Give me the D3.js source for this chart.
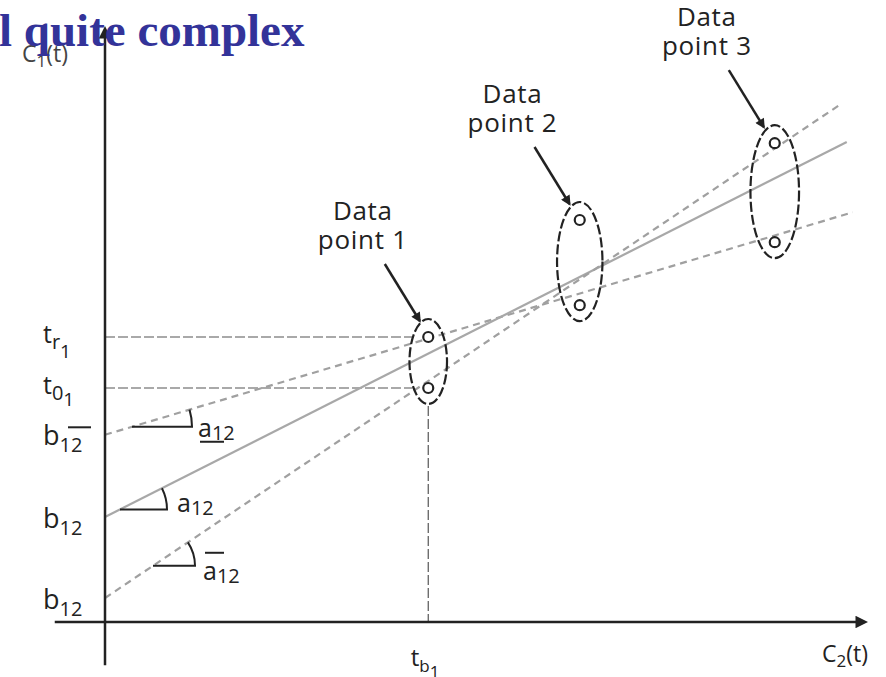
<!DOCTYPE html>
<html>
<head>
<meta charset="utf-8">
<script src="https://cdn.jsdelivr.net/npm/d3@7"></script>
<style>
  body { margin: 0; background: #fff; }
  svg { display: block; font-family: "Open Sans", "DejaVu Sans", sans-serif; }
</style>
</head>
<body>
<svg id="chart" width="886" height="677"></svg>
<script>
// ---------- data (chart units, 0..100 on both axes) ----------
// three fitted lines: y = intercept + slope * x
const fitNames      = ["under", "mean", "over"];
const fitIntercepts = [31.2, 17.5, 4.0];
const fitSlopes     = [0.372, 0.632, 0.839];
const fitXEnd       = [99.7, 98.9, 98.0];

// data points: each is a pair of measurements (high / low) at one C2 value
const pointNames = ["Data point 1", "Data point 2", "Data point 3"];
const pointX     = [43.1, 63.3, 89.3];
const pointYHigh = [47.5, 67.0, 79.8];
const pointYLow  = [39.0, 52.8, 63.3];

// axis tick labels (base letter, subscript, second-level subscript, bar)
const yTickBase   = ["t", "t", "b", "b", "b"];
const yTickSub    = ["r", "0", "12", "12", "12"];
const yTickSubSub = ["1", "1", "", "", ""];
const yTickBar    = [false, false, true, false, false];
const xTickBase   = ["t"];
const xTickSub    = ["b"];
const xTickSubSub = ["1"];

// slope labels for the three lines
const slopeMark = ["under", "plain", "over"];

const titleText = "l quite complex";

// ---------- scales ----------
const svg = d3.select("#chart");
const x = d3.scaleLinear().domain([0, 100]).range([105, 855]);
const y = d3.scaleLinear().domain([0, 100]).range([622, 22]);

const yTickValues = [pointYHigh[0], pointYLow[0], ...fitIntercepts];
const xTickValues = [pointX[0]];

const ink = "#222";
const defs = svg.append("defs");
defs.append("marker")
  .attr("id", "axisHead").attr("viewBox", "0 0 10 10")
  .attr("refX", 2).attr("refY", 5)
  .attr("markerWidth", 6).attr("markerHeight", 5)
  .attr("markerUnits", "strokeWidth")
  .attr("orient", "auto")
  .append("path").attr("d", "M0,0 L10,5 L0,10 Z").attr("fill", ink);
defs.append("marker")
  .attr("id", "callHead").attr("viewBox", "0 0 10 10")
  .attr("refX", 8).attr("refY", 5)
  .attr("markerWidth", 5).attr("markerHeight", 4)
  .attr("markerUnits", "strokeWidth")
  .attr("orient", "auto")
  .append("path").attr("d", "M0,0 L10,5 L0,10 Z").attr("fill", ink);

// ---------- data point enclosures (computed from the pairs) ----------
const padTop = 18, padBottom = 16;
const enclosures = pointX.map((px, i) => {
  const top = y(pointYHigh[i]) - padTop;
  const bottom = y(pointYLow[i]) + padBottom;
  const ry = (bottom - top) / 2;
  return { cx: x(px), cy: (top + bottom) / 2, ry, rx: 9 + 0.23 * ry, top, bottom };
});

// ---------- guide lines for point 1 ----------
const guides = svg.append("g")
  .attr("stroke", "#555").attr("stroke-width", 1.2)
  .attr("stroke-dasharray", "10 3").attr("fill", "none");
const e0 = enclosures[0];
[pointYHigh[0], pointYLow[0]].forEach(v => {
  guides.append("line")
    .attr("x1", x(0)).attr("x2", e0.cx - e0.rx + 3)
    .attr("y1", y(v)).attr("y2", y(v));
});
guides.append("line")
  .attr("x1", x(pointX[0])).attr("x2", x(pointX[0]))
  .attr("y1", e0.bottom + 2).attr("y2", y(0));

// ---------- fitted lines ----------
const lineGen = d3.line().x(d => x(d[0])).y(d => y(d[1]));
fitNames.forEach((name, i) => {
  const pts = [[0, fitIntercepts[i]], [fitXEnd[i], fitIntercepts[i] + fitSlopes[i] * fitXEnd[i]]];
  svg.append("path")
    .datum(pts)
    .attr("class", "fit " + name)
    .attr("d", lineGen)
    .attr("fill", "none")
    .attr("stroke", name === "mean" ? "#a8a8a8" : "#a0a0a0")
    .attr("stroke-width", 2.2)
    .attr("stroke-dasharray", name === "mean" ? null : "7 5");
});

// ---------- slope angle marks ----------
const markStartX = [3.6, 2.0, 6.4];      // where each mark sits along its line
const markLen = [60, 47, 42];
const markLabelOff = [[6, 10], [10, 3], [8, 14]];
fitNames.forEach((name, i) => {
  const x0 = x(markStartX[i]);
  const y0 = y(fitIntercepts[i] + fitSlopes[i] * markStartX[i]);
  const pxSlope = fitSlopes[i] * (y(0) - y(1)) / (x(1) - x(0));
  const th = Math.atan(pxSlope);
  const L = markLen[i];
  svg.append("path")
    .attr("d", `M${x0},${y0} H${x0 + L} A${L},${L} 0 0 0 ${x0 + L * Math.cos(th)},${y0 - L * Math.sin(th)}`)
    .attr("fill", "none").attr("stroke", ink).attr("stroke-width", 2);
  const lx = x0 + L + markLabelOff[i][0];
  const ly = y0 + markLabelOff[i][1];
  const t = svg.append("text").attr("x", lx).attr("y", ly)
    .attr("fill", ink).attr("font-size", 25);
  t.append("tspan").text("a");
  t.append("tspan").attr("font-size", 20).attr("dy", 3).text("12");
  if (slopeMark[i] === "under") {
    svg.append("line").attr("x1", lx + 2).attr("x2", lx + 26)
      .attr("y1", ly + 5).attr("y2", ly + 5)
      .attr("stroke", ink).attr("stroke-width", 2);
  } else if (slopeMark[i] === "over") {
    svg.append("line").attr("x1", lx + 2).attr("x2", lx + 21)
      .attr("y1", ly - 27).attr("y2", ly - 27)
      .attr("stroke", ink).attr("stroke-width", 2);
  }
});

// ---------- axes ----------
const yAxis = svg.append("g").attr("transform", `translate(${x(0)},0)`)
  .call(d3.axisLeft(y).tickValues(yTickValues).tickSize(0).tickFormat(() => ""));
yAxis.attr("font-family", null).attr("font-size", null);
yAxis.select(".domain").remove();
yAxis.selectAll(".tick text").each(function (d, i) {
  const t = d3.select(this)
    .attr("x", -62).attr("dy", null)
    .attr("y", yTickBase[i] === "b" ? 10 : 5)
    .attr("text-anchor", "start")
    .attr("fill", ink)
    .attr("font-size", yTickBase[i] === "b" ? 27 : 25);
  t.append("tspan").text(yTickBase[i]);
  t.append("tspan").attr("font-size", 20).attr("dy", yTickBase[i] === "b" ? 7 : 6).text(yTickSub[i]);
  if (yTickSubSub[i]) t.append("tspan").attr("font-size", 19).attr("dy", yTickSub[i] === "r" ? 9 : 6).text(yTickSubSub[i]);
  if (yTickBar[i]) {
    d3.select(this.parentNode).append("line")
      .attr("x1", -37).attr("x2", -14).attr("y1", -8).attr("y2", -8)
      .attr("stroke", ink).attr("stroke-width", 2);
  }
});

const xAxis = svg.append("g").attr("transform", `translate(0,${y(0)})`)
  .call(d3.axisBottom(x).tickValues(xTickValues).tickSize(0).tickFormat(() => ""));
xAxis.attr("font-family", null).attr("font-size", null);
xAxis.select(".domain").remove();
xAxis.selectAll(".tick text").each(function (d, i) {
  const t = d3.select(this)
    .attr("x", -18).attr("y", 44).attr("dy", null)
    .attr("text-anchor", "start")
    .attr("fill", ink)
    .attr("font-size", 24);
  t.append("tspan").text(xTickBase[i]);
  t.append("tspan").attr("font-size", 17).attr("dy", 6).text(xTickSub[i]);
  t.append("tspan").attr("font-size", 17).attr("dy", 6).text(xTickSubSub[i]);
});

// axis lines with arrowheads
svg.append("line")
  .attr("x1", x(-6.7)).attr("x2", 858).attr("y1", y(0)).attr("y2", y(0))
  .attr("stroke", ink).attr("stroke-width", 2.5).attr("marker-end", "url(#axisHead)");
svg.append("line")
  .attr("x1", x(0)).attr("x2", x(0)).attr("y1", y(-7.2)).attr("y2", 36)
  .attr("stroke", ink).attr("stroke-width", 2.5).attr("marker-end", "url(#axisHead)");

// axis titles
const c2 = svg.append("text").attr("x", 822).attr("y", 662).attr("fill", ink).attr("font-size", 23);
c2.append("tspan").text("C");
c2.append("tspan").attr("font-size", 17).attr("dy", 5).text("2");
c2.append("tspan").attr("dy", -5).text("(t)");
const c1 = svg.append("text").attr("x", 22).attr("y", 62).attr("fill", "#444").attr("font-size", 23);
c1.append("tspan").text("C");
c1.append("tspan").attr("font-size", 17).attr("dy", 5).text("1");
c1.append("tspan").attr("dy", -5).text("(t)");

// ---------- enclosures, measurements and callouts ----------
const pts = svg.append("g");
enclosures.forEach((e, i) => {
  pts.append("ellipse")
    .attr("cx", e.cx).attr("cy", e.cy).attr("rx", e.rx).attr("ry", e.ry)
    .attr("fill", "none").attr("stroke", ink).attr("stroke-width", 2.2)
    .attr("stroke-dasharray", "10 3");
  const hy = y(pointYHigh[i]);
  [pointYHigh[i], pointYLow[i]].forEach(v => {
    pts.append("circle")
      .attr("cx", x(pointX[i])).attr("cy", y(v)).attr("r", 5)
      .attr("fill", "#fff").attr("stroke", ink).attr("stroke-width", 2.2);
  });
  const tipX = e.cx - 0.45 * e.rx, tipY = hy - 16;
  const sx = tipX - 35, sy = tipY - 57;
  pts.append("line")
    .attr("x1", sx).attr("y1", sy).attr("x2", tipX).attr("y2", tipY)
    .attr("stroke", ink).attr("stroke-width", 2.5).attr("marker-end", "url(#callHead)");
  const words = pointNames[i].split(" ");
  const lab = pts.append("text").attr("text-anchor", "middle")
    .attr("fill", ink).attr("font-size", 26).attr("letter-spacing", 0.7);
  lab.append("tspan").attr("x", sx - 22).attr("y", hy - 117).text(words[0]);
  lab.append("tspan").attr("x", sx - 22).attr("y", hy - 88).text(words.slice(1).join(" "));
});

// ---------- slide title (sits over the chart) ----------
svg.append("text")
  .attr("x", -1).attr("y", 46)
  .style("font-family", "'Liberation Serif', 'Times New Roman', serif")
  .attr("font-weight", "bold").attr("font-size", 47)
  .attr("fill", "#333399")
  .text(titleText);
</script>
</body>
</html>
